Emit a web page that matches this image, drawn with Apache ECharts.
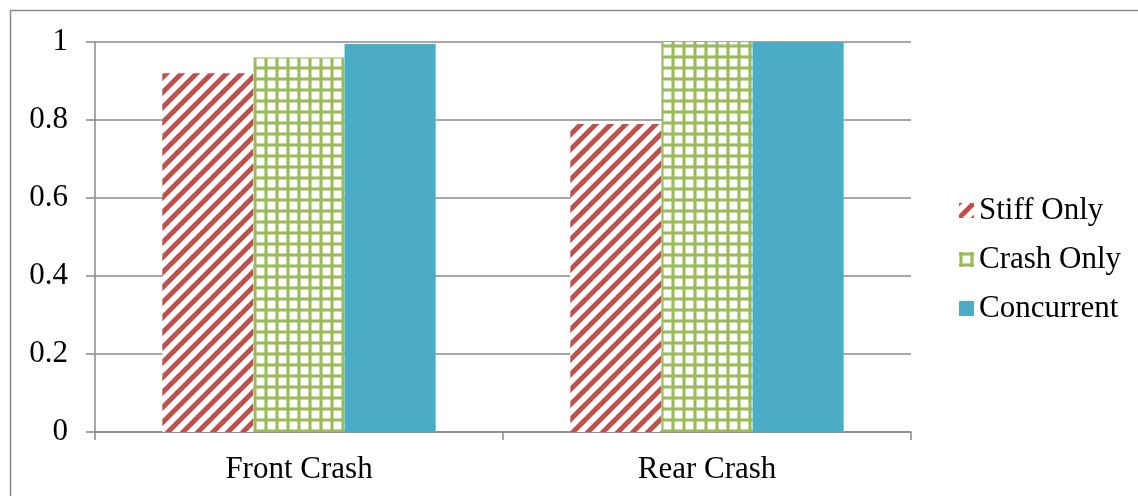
<!DOCTYPE html>
<html>
<head>
<meta charset="utf-8">
<script src="https://cdn.jsdelivr.net/npm/echarts@6/dist/echarts.min.js"></script>
<style>
  html, body { margin: 0; padding: 0; background: #fff; }
  #chart { width: 1138px; height: 496px; }
</style>
</head>
<body>
<div id="chart"></div>
<script>
// Chart data
const categories = ['Front Crash', 'Rear Crash'];
const seriesNames = ['Stiff Only', 'Crash Only', 'Concurrent'];
const stiffOnly = [0.92, 0.79];
const crashOnly = [0.96, 1.0];
const concurrent = [0.995, 1.0];
const yTicks = [0, 0.2, 0.4, 0.6, 0.8, 1];

const RED = '#C0504D';
const GREEN = '#9BBB59';
const BLUE = '#4BACC6';
const SERIF = '"Liberation Serif", "Times New Roman", serif';
const FONT_SIZE = 31;

// Wide upward diagonal stripes
function stripeTile() {
  const s = 15;
  const c = document.createElement('canvas');
  c.width = s; c.height = s;
  const g = c.getContext('2d');
  g.fillStyle = '#fff';
  g.fillRect(0, 0, s, s);
  g.strokeStyle = RED;
  g.lineWidth = 5;
  g.lineCap = 'square';
  [-s, 0, s].forEach(dx => {
    g.beginPath();
    g.moveTo(dx, s);
    g.lineTo(dx + s, 0);
    g.stroke();
  });
  return c;
}

// Small grid
function gridTile() {
  const s = 11;
  const c = document.createElement('canvas');
  c.width = s; c.height = s;
  const g = c.getContext('2d');
  g.fillStyle = '#fff';
  g.fillRect(0, 0, s, s);
  g.fillStyle = 'rgba(155,187,89,0.55)';
  g.fillRect(0, 0, 4, s);
  g.fillRect(0, 0, s, 4);
  g.fillStyle = GREEN;
  g.fillRect(1, 0, 2, s);
  g.fillRect(0, 1, s, 2);
  return c;
}

const stripePattern = { image: stripeTile(), repeat: 'repeat' };
const gridPattern = { image: gridTile(), repeat: 'repeat' };

const chart = echarts.init(document.getElementById('chart'), null, { renderer: 'canvas' });

const axisGray = '#8a8a8a';

chart.setOption({
  animation: false,
  backgroundColor: '#fff',
  graphic: [
    {
      type: 'polyline',
      shape: { points: [[10.5, 496], [10.5, 10.5], [1138, 10.5]] },
      style: { stroke: '#8a8a8a', lineWidth: 1.5, fill: null },
      silent: true
    }
  ],
  grid: { left: 95, right: 227, top: 42, bottom: 64 },
  legend: {
    orient: 'vertical',
    left: 954,
    top: 190,
    itemWidth: 15,
    itemHeight: 15,
    itemGap: 18,
    icon: 'rect',
    data: seriesNames,
    textStyle: { fontFamily: SERIF, fontSize: FONT_SIZE, color: '#000' }
  },
  xAxis: {
    type: 'category',
    data: categories,
    axisLine: { lineStyle: { color: axisGray, width: 1.5 } },
    axisTick: { show: true, length: 8, alignWithLabel: false, lineStyle: { color: axisGray, width: 1.5 } },
    axisLabel: { fontFamily: SERIF, fontSize: FONT_SIZE, color: '#000', margin: 22 }
  },
  yAxis: {
    type: 'value',
    min: 0,
    max: 1,
    interval: 0.2,
    axisLine: { show: true, lineStyle: { color: axisGray, width: 1.5 } },
    axisTick: { show: true, length: 9, lineStyle: { color: axisGray, width: 1.5 } },
    splitLine: { lineStyle: { color: axisGray, width: 1.5 } },
    axisLabel: {
      fontFamily: SERIF, fontSize: FONT_SIZE, color: '#000', margin: 27,
      formatter: v => {
        const t = yTicks.find(x => Math.abs(x - v) < 1e-9);
        return t === undefined ? '' : String(t);
      }
    }
  },
  series: [
    { name: seriesNames[0], type: 'bar', data: stiffOnly, barGap: '0%', barCategoryGap: '33%', itemStyle: { color: stripePattern } },
    { name: seriesNames[1], type: 'bar', data: crashOnly, barGap: '0%', barCategoryGap: '33%', itemStyle: { color: gridPattern } },
    { name: seriesNames[2], type: 'bar', data: concurrent, barGap: '0%', barCategoryGap: '33%', itemStyle: { color: BLUE } }
  ]
});
</script>
</body>
</html>
